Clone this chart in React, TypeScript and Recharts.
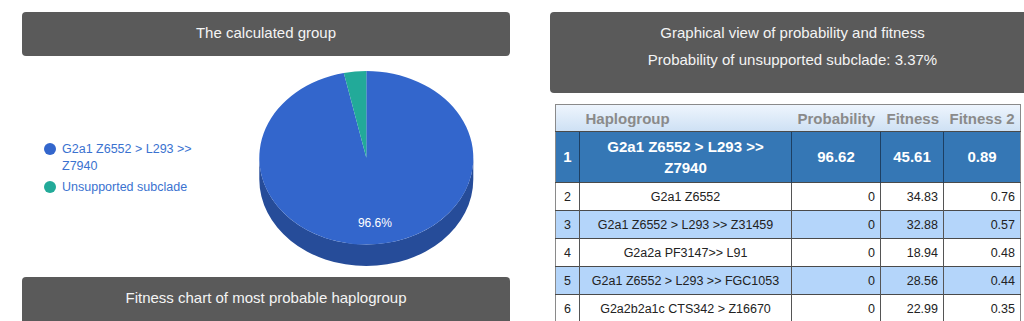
import { PieChart, Pie, Cell, Legend } from 'recharts'

// pie slices
const sliceNames = ['G2a1 Z6552 > L293 >> Z7940', 'Unsupported subclade']
const sliceValues = [96.62, 3.37]
const sliceColors = ['#3366cc', '#22aa99']
const sideColors = ['#264c99', '#1a8073']

// table
const tableHeaders = ['', 'Haplogroup', 'Probability', 'Fitness', 'Fitness 2']
const rowRanks = [1, 2, 3, 4, 5, 6]
const rowHaplogroups = [
  'G2a1 Z6552 > L293 >> Z7940',
  'G2a1 Z6552',
  'G2a1 Z6552 > L293 >> Z31459',
  'G2a2a PF3147>> L91',
  'G2a1 Z6552 > L293 >> FGC1053',
  'G2a2b2a1c CTS342 > Z16670'
]
const rowProbability = ['96.62', '0', '0', '0', '0', '0']
const rowFitness = ['45.61', '34.83', '32.88', '18.94', '28.56', '22.99']
const rowFitness2 = ['0.89', '0.76', '0.57', '0.48', '0.44', '0.35']

const unsupported = '3.37%'

const pieData = sliceNames.map((name, i) => ({ name, value: sliceValues[i] }))

const FONT = '"Liberation Sans", Arial, sans-serif'
const TILT = 0.811
const DEPTH = 21.5
const RAD = Math.PI / 180
const LEGEND_W = 190 // recharts moves the plot right by the legend width

const pt = (cx: number, cy: number, r: number, a: number) => [
  cx + r * Math.cos(a * RAD),
  cy - r * TILT * Math.sin(a * RAD)
]

// elliptical 3d slice, drawn from the angles recharts hands over
function Slice3D (props: any) {
  const { cx, cy, outerRadius: r, startAngle, endAngle, fill } = props
  const ry = r * TILT
  const [sx, sy] = pt(cx, cy, r, startAngle)
  const [ex, ey] = pt(cx, cy, r, endAngle)
  const large = Math.abs(endAngle - startAngle) > 180 ? 1 : 0
  const sweep = endAngle < startAngle ? 1 : 0
  const top = `M${cx},${cy} L${sx},${sy} A${r},${ry} 0 ${large} ${sweep} ${ex},${ey} Z`

  const lo = Math.min(startAngle, endAngle)
  const hi = Math.max(startAngle, endAngle)
  const sides: string[] = []
  for (let k = -2; k <= 2; k++) {
    const b0 = Math.max(lo, -180 + 360 * k)
    const b1 = Math.min(hi, 360 * k)
    if (b1 > b0) {
      const [x0, y0] = pt(cx, cy, r, b0)
      const [x1, y1] = pt(cx, cy, r, b1)
      sides.push(
        `M${x0},${y0} A${r},${ry} 0 0 0 ${x1},${y1} L${x1},${y1 + DEPTH} A${r},${ry} 0 0 1 ${x0},${y0 + DEPTH} Z`
      )
    }
  }
  const side = sideColors[sliceColors.indexOf(fill)] || fill
  return (
    <g>
      {sides.map((d, i) => <path key={i} d={d} fill={side} />)}
      <path d={top} fill={fill} />
    </g>
  )
}

const renderLabel = (props: any) => {
  const { cx, cy, midAngle, outerRadius, percent } = props
  if (percent < 0.05) return null
  const [x, y] = pt(cx, cy, outerRadius * 0.76, midAngle)
  return (
    <text x={x} y={y} fill='#ffffff' fontSize={12} fontFamily={FONT} textAnchor='middle' dominantBaseline='central'>
      {(percent * 100).toFixed(1)}%
    </text>
  )
}

const renderLegend = (props: any) => {
  const { payload } = props
  return (
    <div style={{ fontFamily: FONT, fontSize: 12.5, lineHeight: '17px', color: '#3a72d0' }}>
      {payload.map((entry: any, i: number) => (
        <div key={i} style={{ display: 'flex', alignItems: 'flex-start', marginBottom: 4 }}>
          <span style={{ width: 12, height: 12, borderRadius: 6, background: entry.color, marginTop: 2.5, marginRight: 6, flex: 'none' }} />
          <span style={{ width: 150 }}>{entry.value}</span>
        </div>
      ))}
    </div>
  )
}

const headerBox = {
  position: 'absolute' as const,
  background: '#5a5a5a',
  borderRadius: 4,
  color: '#f4f4f4',
  fontFamily: FONT,
  fontSize: 15,
  textAlign: 'center' as const
}

const colWidths = [24, 212, 89, 63, 77]

export default function App () {
  return (
    <div style={{ position: 'absolute', left: 0, top: 0, width: 1024, height: 321, overflow: 'hidden', background: '#ffffff' }}>
      <div style={{ ...headerBox, left: 22, top: 12, width: 488, height: 44, lineHeight: '42px' }}>
        The calculated group
      </div>

      <div style={{ position: 'absolute', left: 0, top: 0 }}>
        <PieChart width={530} height={277} margin={{ top: 0, right: 0, bottom: 0, left: 0 }}>
          <Pie
            data={pieData}
            dataKey='value'
            nameKey='name'
            cx={366.3 - LEGEND_W}
            cy={157.8}
            outerRadius={107}
            startAngle={90}
            endAngle={-270}
            stroke='none'
            shape={Slice3D}
            label={renderLabel}
            labelLine={false}
            isAnimationActive={false}
          >
            {pieData.map((d, i) => <Cell key={d.name} fill={sliceColors[i]} />)}
          </Pie>
          <Legend
            layout='vertical'
            align='left'
            verticalAlign='top'
            width={LEGEND_W}
            content={renderLegend}
            wrapperStyle={{ left: 44, top: 140.5 }}
          />
        </PieChart>
      </div>

      <div style={{ ...headerBox, left: 22, top: 277, width: 488, height: 60, lineHeight: '42px' }}>
        Fitness chart of most probable haplogroup
      </div>

      <div style={{ ...headerBox, left: 550, top: 12, width: 485, height: 81 }}>
        <div style={{ position: 'absolute', left: 0, right: 0, top: 12, lineHeight: '18px' }}>
          Graphical view of probability and fitness
        </div>
        <div style={{ position: 'absolute', left: 0, right: 0, top: 39, lineHeight: '18px' }}>
          Probability of unsupported subclade: {unsupported}
        </div>
      </div>

      <table
        style={{
          position: 'absolute',
          left: 555,
          top: 104,
          width: 466,
          borderCollapse: 'collapse',
          tableLayout: 'fixed',
          fontFamily: FONT,
          border: '1px solid #8a8a8a'
        }}
      >
        <colgroup>
          {colWidths.map((w, i) => <col key={i} style={{ width: w }} />)}
        </colgroup>
        <thead>
          <tr style={{ height: 27, background: 'linear-gradient(#eef5fd, #cde0f4)' }}>
            {tableHeaders.map((h, i) => (
              <th key={i} style={{ textAlign: 'left', padding: '0 0 0 6px', fontSize: 15, color: '#8a8a8a', fontWeight: 'bold', whiteSpace: 'nowrap' }}>
                {h}
              </th>
            ))}
          </tr>
        </thead>
        <tbody>
          {rowRanks.map((rank, i) => {
            const first = i === 0
            const bg = first ? '#3577b5' : i % 2 === 0 ? '#b4d5fa' : '#ffffff'
            const cell = {
              borderLeft: first ? '1px solid #1d3f63' : '1px solid #555555',
              borderTop: '1px solid #4a4a4a',
              fontSize: first ? 15 : 12.5,
              fontWeight: first ? 'bold' : 'normal',
              color: first ? '#ffffff' : '#222222',
              lineHeight: first ? '21.5px' : '16px',
              padding: '0 5px'
            } as const
            return (
              <tr key={rank} style={{ height: first ? 51 : 28, background: bg }}>
                <td style={{ ...cell, borderLeft: 'none', textAlign: 'center', padding: 0 }}>{rank}</td>
                <td style={{ ...cell, textAlign: 'center', padding: '0 5px' }}>{rowHaplogroups[i]}</td>
                <td style={{ ...cell, textAlign: first ? 'center' : 'right' }}>{rowProbability[i]}</td>
                <td style={{ ...cell, textAlign: first ? 'center' : 'right' }}>{rowFitness[i]}</td>
                <td style={{ ...cell, textAlign: first ? 'center' : 'right' }}>{rowFitness2[i]}</td>
              </tr>
            )
          })}
        </tbody>
      </table>
    </div>
  )
}
